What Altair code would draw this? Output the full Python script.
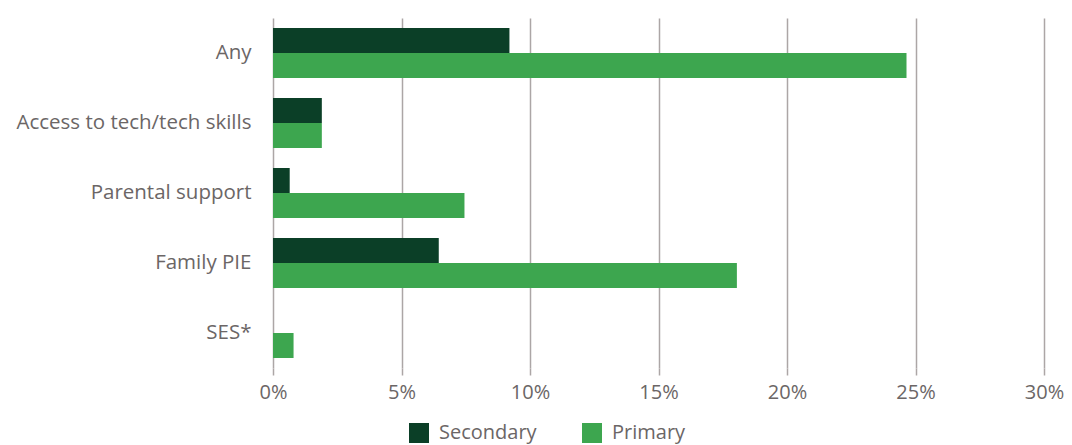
import altair as alt
import pandas as pd

categories = ["Any", "Access to tech/tech skills", "Parental support", "Family PIE", "SES*"]
secondary = [9.2, 1.9, 0.65, 6.45, 0.0]
primary = [24.65, 1.9, 7.45, 18.05, 0.8]
series = ["Secondary", "Primary"]
colors = ["#0b3f27", "#3da64f"]
x_ticks = [0, 5, 10, 15, 20, 25, 30]

rows = []
for c, s, p in zip(categories, secondary, primary):
    rows.append({"category": c, "series": "Secondary", "value": s})
    rows.append({"category": c, "series": "Primary", "value": p})
df = pd.DataFrame(rows)

FONT = "Open Sans"
TXT = "#6b6666"
GRID = "#aca6a6"

chart = alt.Chart(df).mark_bar().encode(
    y=alt.Y("category:N", sort=categories,
            scale=alt.Scale(paddingInner=0.2857, paddingOuter=0.1429),
            axis=alt.Axis(title=None, domain=False, ticks=False, labelPadding=22,
                          labelFontSize=20.5, labelColor=TXT, labelFont=FONT,
                          labelLimit=400)),
    yOffset=alt.YOffset("series:N", sort=series, scale=alt.Scale(paddingInner=0, paddingOuter=0)),
    x=alt.X("value:Q", scale=alt.Scale(domain=[0, 30], nice=False),
            axis=alt.Axis(title=None, values=x_ticks, labelExpr="datum.value + '%'",
                          domain=False, grid=True, gridColor=GRID, gridWidth=1.5,
                          tickColor=GRID, tickWidth=1.5, tickSize=7, labelPadding=7,
                          labelFlush=False,
                          labelFontSize=20, labelColor=TXT, labelFont=FONT)),
    color=alt.Color("series:N", sort=series,
                    scale=alt.Scale(domain=series, range=colors),
                    legend=alt.Legend(title=None, orient="none", direction="horizontal",
                                      legendX=136, legendY=405, symbolType="square",
                                      symbolSize=400, symbolStrokeWidth=0,
                                      labelFontSize=20, labelColor=TXT, labelFont=FONT,
                                      labelOffset=10, columnPadding=45)),
).properties(
    width=771, height=350,
    autosize=alt.AutoSizeParams(type="none"),
    padding={"left": 265, "top": 10, "right": 20, "bottom": 77},
).configure_view(stroke=None)

chart.save("out.html", embed_options={"renderer": "svg", "actions": False})
